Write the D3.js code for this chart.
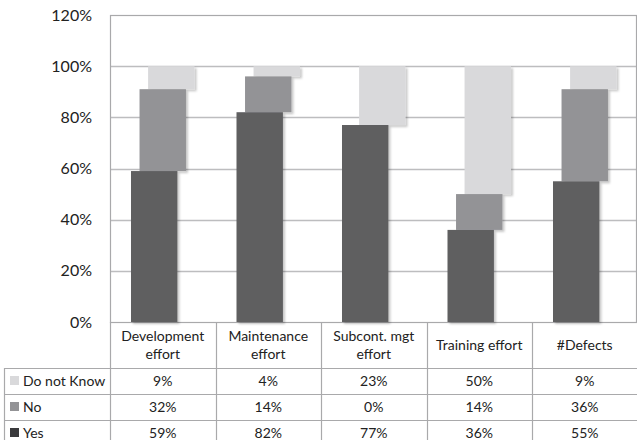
<!DOCTYPE html>
<html>
<head>
<meta charset="utf-8">
<script src="https://cdn.jsdelivr.net/npm/d3@7"></script>
<style>
  html, body { margin: 0; padding: 0; background: #fff; }
  svg { display: block; font-family: Lato, "Open Sans", sans-serif; }
</style>
</head>
<body>
<svg id="chart" width="637" height="440"></svg>
<script>
// Categories (two-line header labels) and the three stacked answer series (%)
const categories = ["Development effort", "Maintenance effort", "Subcont. mgt effort", "Training effort", "#Defects"];
const categoryLines = [["Development", "effort"], ["Maintenance", "effort"], ["Subcont. mgt", "effort"], ["Training effort"], ["#Defects"]];
const yesValues = [59, 82, 77, 36, 55];
const noValues = [32, 14, 0, 14, 36];
const dontKnowValues = [9, 4, 23, 50, 9];
const seriesNames = ["Yes", "No", "Do not Know"];
const seriesColors = ["#5f5f61", "#939396", "#d9d9db"];
const yTicks = [0, 20, 40, 60, 80, 100, 120];

const svg = d3.select("#chart");
const W = 637;
const plot = { left: 110, right: 636, top: 15, bottom: 322 };
const tableLeft = 4;
const headerBottom = 368;
const rowH = 26;

const rows = categories.map((c, i) => ({
  category: c,
  "Yes": yesValues[i],
  "No": noValues[i],
  "Do not Know": dontKnowValues[i]
}));

const x = d3.scaleBand().domain(categories).range([plot.left, W + 0.5]).padding(0);
const y = d3.scaleLinear().domain([0, 120]).range([plot.bottom, plot.top]);

// soft drop shadow under the bars
const defs = svg.append("defs");
const f = defs.append("filter").attr("id", "shadow").attr("x", "-10%").attr("y", "-10%").attr("width", "130%").attr("height", "130%");
f.append("feDropShadow").attr("dx", 2).attr("dy", 2).attr("stdDeviation", 1.2)
  .attr("flood-color", "#000").attr("flood-opacity", 0.22);

// gridlines
svg.append("g").selectAll("line").data(yTicks.filter(t => t > 0 && t < 120)).join("line")
  .attr("x1", plot.left).attr("x2", plot.right)
  .attr("y1", d => Math.round(y(d)) + 0.5).attr("y2", d => Math.round(y(d)) + 0.5)
  .attr("stroke", "#bdbdbf").attr("stroke-width", 1.3);

// plot frame
svg.append("rect")
  .attr("x", plot.left + 0.5).attr("y", Math.round(y(120)) + 0.5)
  .attr("width", plot.right - plot.left).attr("height", Math.round(y(0)) - Math.round(y(120)))
  .attr("fill", "none").attr("stroke", "#a9a9ab").attr("stroke-width", 1.2);

// y axis labels
const yAxis = d3.axisLeft(y).tickValues(yTicks).tickFormat(d => d + "%").tickSize(0).tickPadding(0);
const ya = svg.append("g").attr("transform", `translate(92,0)`).call(yAxis);
ya.select(".domain").remove();
ya.selectAll("text").attr("font-size", 16).attr("fill", "#222").attr("font-family", "Lato, sans-serif");

// stacked bars, each series shifted right a little
const stack = d3.stack().keys(seriesNames)(rows);
const bw = x.bandwidth();
const barW = bw * 0.44;
const shift = bw * 0.081;
const bars = svg.append("g");
// draw back-to-front: Do not Know, No, Yes
[2, 1, 0].forEach(si => {
  const layer = stack[si];
  bars.append("g").attr("fill", seriesColors[si]).attr("filter", "url(#shadow)")
    .selectAll("rect").data(layer.filter(d => d[1] - d[0] > 0)).join("rect")
    .attr("x", d => x(d.data.category) + bw / 2 - barW / 2 + (si - 1) * shift)
    .attr("width", barW)
    .attr("y", d => y(d[1]))
    .attr("height", d => y(d[0]) - y(d[1]));
});

// data table
const table = svg.append("g");
const lineColor = "#a9a9ab";
const tableBottom = 446;
// vertical lines
categories.forEach(c => {
  table.append("line").attr("x1", Math.round(x(c)) + 0.5).attr("x2", Math.round(x(c)) + 0.5)
    .attr("y1", plot.bottom).attr("y2", tableBottom).attr("stroke", lineColor).attr("stroke-width", 1.2);
});
table.append("line").attr("x1", tableLeft + 0.5).attr("x2", tableLeft + 0.5)
  .attr("y1", headerBottom).attr("y2", tableBottom).attr("stroke", lineColor).attr("stroke-width", 1.2);
// horizontal lines
[0, 1, 2].forEach(r => {
  table.append("line").attr("x1", tableLeft).attr("x2", W)
    .attr("y1", headerBottom + r * rowH + 0.5).attr("y2", headerBottom + r * rowH + 0.5)
    .attr("stroke", lineColor).attr("stroke-width", 1.2);
});

// header labels
categories.forEach((c, i) => {
  const lines = categoryLines[i];
  const cx = x(c) + bw / 2;
  const mid = (plot.bottom + headerBottom) / 2;
  const t = table.append("text").attr("text-anchor", "middle").attr("font-size", 14).attr("fill", "#222");
  lines.forEach((ln, k) => {
    t.append("tspan").attr("x", cx)
      .attr("y", mid + 5 + (k - (lines.length - 1) / 2) * 18)
      .text(ln);
  });
});

// table rows: Do not Know, No, Yes
const tableOrder = [2, 1, 0];
const seriesValues = [yesValues, noValues, dontKnowValues];
tableOrder.forEach((si, r) => {
  const cy = headerBottom + r * rowH + rowH / 2;
  table.append("rect").attr("x", 10).attr("y", cy - 5).attr("width", 9).attr("height", 9)
    .attr("fill", seriesColors[si] === "#5f5f61" ? "#3a3a3c" : seriesColors[si]);
  table.append("text").attr("x", 23).attr("y", cy + 5).attr("font-size", 14).attr("fill", "#222")
    .text(seriesNames[si]);
  categories.forEach((c, i) => {
    table.append("text").attr("x", x(c) + bw / 2).attr("y", cy + 5)
      .attr("text-anchor", "middle").attr("font-size", 14).attr("fill", "#222")
      .text(seriesValues[si][i] + "%");
  });
});
</script>
</body>
</html>
